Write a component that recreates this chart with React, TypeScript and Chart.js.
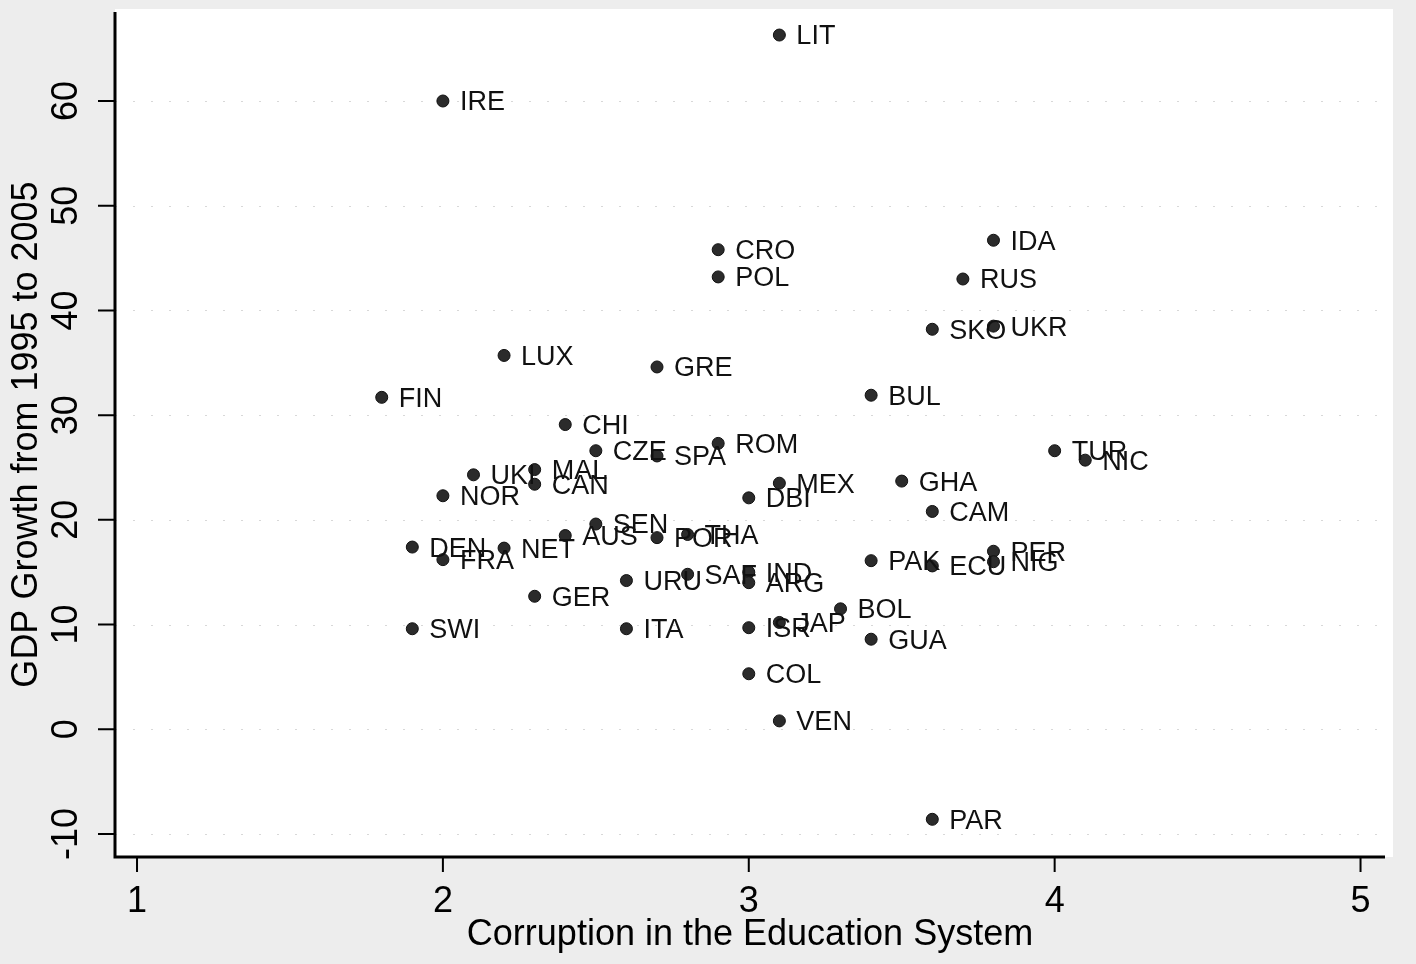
import React, { useEffect, useRef } from "react";
import { Chart, registerables } from "chart.js";

Chart.register(...registerables);

const countries = [
  "LIT", "IRE", "CRO", "POL", "IDA", "RUS", "SKO", "UKR", "LUX", "GRE",
  "FIN", "BUL", "CHI", "CZE", "SPA", "ROM", "TUR", "NIC", "UKI", "MAL",
  "CAN", "NOR", "MEX", "DBI", "GHA", "CAM", "SEN", "AUS", "POR", "THA",
  "DEN", "FRA", "NET", "PAK", "ECU", "PER", "NIG", "URU", "SAF", "IND",
  "ARG", "GER", "BOL", "SWI", "ITA", "ISR", "JAP", "GUA", "COL", "VEN", "PAR",
];
const corruption = [
  3.1, 2.0, 2.9, 2.9, 3.8, 3.7, 3.6, 3.8, 2.2, 2.7,
  1.8, 3.4, 2.4, 2.5, 2.7, 2.9, 4.0, 4.1, 2.1, 2.3,
  2.3, 2.0, 3.1, 3.0, 3.5, 3.6, 2.5, 2.4, 2.7, 2.8,
  1.9, 2.0, 2.2, 3.4, 3.6, 3.8, 3.8, 2.6, 2.8, 3.0,
  3.0, 2.3, 3.3, 1.9, 2.6, 3.0, 3.1, 3.4, 3.0, 3.1, 3.6,
];
const gdpGrowth = [
  66.3, 60.0, 45.8, 43.2, 46.7, 43.0, 38.2, 38.5, 35.7, 34.6,
  31.7, 31.9, 29.1, 26.6, 26.1, 27.3, 26.6, 25.7, 24.3, 24.8,
  23.4, 22.3, 23.5, 22.1, 23.7, 20.8, 19.6, 18.5, 18.3, 18.6,
  17.4, 16.2, 17.3, 16.1, 15.6, 17.0, 16.0, 14.2, 14.8, 15.0,
  14.0, 12.7, 11.5, 9.6, 9.6, 9.7, 10.2, 8.6, 5.3, 0.8, -8.6,
];
const xTicks = [1, 2, 3, 4, 5];
const yTicks = [-10, 0, 10, 20, 30, 40, 50, 60];
const xTitle = "Corruption in the Education System";
const yTitle = "GDP Growth from 1995 to 2005";

const FONT = '"Liberation Sans", Arial, Helvetica, sans-serif';

const decorPlugin = {
  id: "decor",
  beforeDraw(chart: any) {
    const { ctx, chartArea: a, width, height } = chart;
    ctx.save();
    ctx.fillStyle = "#ededed";
    ctx.fillRect(0, 0, width, height);
    ctx.fillStyle = "#ffffff";
    ctx.fillRect(a.left, a.top - 3, a.right - a.left + 8, a.bottom - a.top + 3);
    // faint gridlines
    const y = chart.scales.y;
    ctx.strokeStyle = "#d8d8d8";
    ctx.lineWidth = 1;
    ctx.setLineDash([2, 16]);
    for (const v of yTicks) {
      const py = Math.round(y.getPixelForValue(v)) + 0.5;
      ctx.beginPath();
      ctx.moveTo(a.left, py);
      ctx.lineTo(a.right, py);
      ctx.stroke();
    }
    ctx.restore();
  },
  afterDatasetsDraw(chart: any) {
    const { ctx, chartArea: a } = chart;
    const xs = chart.scales.x;
    const ys = chart.scales.y;
    ctx.save();
    // point labels
    ctx.fillStyle = "#111";
    ctx.font = `27px ${FONT}`;
    ctx.textAlign = "left";
    ctx.textBaseline = "middle";
    const meta = chart.getDatasetMeta(0);
    meta.data.forEach((pt: any, i: number) => {
      ctx.fillText(countries[i], pt.x + 17, pt.y + 2);
    });
    // axes lines
    ctx.strokeStyle = "#000";
    ctx.lineWidth = 3;
    ctx.beginPath();
    ctx.moveTo(a.left, a.top);
    ctx.lineTo(a.left, a.bottom);
    ctx.lineTo(a.right, a.bottom);
    ctx.stroke();
    // ticks
    ctx.lineWidth = 2;
    ctx.beginPath();
    for (const v of xTicks) {
      const px = xs.getPixelForValue(v);
      ctx.moveTo(px, a.bottom);
      ctx.lineTo(px, a.bottom + 15);
    }
    for (const v of yTicks) {
      const py = ys.getPixelForValue(v);
      ctx.moveTo(a.left, py);
      ctx.lineTo(a.left - 17, py);
    }
    ctx.stroke();
    // tick labels
    ctx.fillStyle = "#000";
    ctx.font = `36px ${FONT}`;
    ctx.textAlign = "center";
    ctx.textBaseline = "middle";
    for (const v of xTicks) {
      ctx.fillText(String(v), xs.getPixelForValue(v), a.bottom + 45);
    }
    for (const v of yTicks) {
      const py = ys.getPixelForValue(v);
      ctx.save();
      ctx.translate(a.left - 48, py);
      ctx.rotate(-Math.PI / 2);
      ctx.fillText(String(v), 0, 0);
      ctx.restore();
    }
    // titles
    ctx.fillText(xTitle, (a.left + a.right) / 2, a.bottom + 78);
    ctx.save();
    ctx.translate(a.left - 88, (a.top + a.bottom) / 2);
    ctx.rotate(-Math.PI / 2);
    ctx.fillText(yTitle, 0, 0);
    ctx.restore();
    ctx.restore();
  },
};

export default function App() {
  const ref = useRef<HTMLCanvasElement | null>(null);
  useEffect(() => {
    if (!ref.current) return;
    const chart = new Chart(ref.current, {
      type: "scatter",
      data: {
        datasets: [
          {
            data: corruption.map((x, i) => ({ x, y: gdpGrowth[i] })),
            pointRadius: 6,
            pointBackgroundColor: "#2b2b2b",
            pointBorderColor: "#111",
            pointBorderWidth: 1,
          },
        ],
      },
      options: {
        animation: false,
        responsive: false,
        layout: { padding: { left: 115, right: 31, top: 12, bottom: 107 } },
        plugins: { legend: { display: false }, tooltip: { enabled: false } },
        scales: {
          x: { type: "linear", display: false, min: 0.928, max: 5.08 },
          y: { type: "linear", display: false, min: -12.2, max: 68.5 },
        },
      },
      plugins: [decorPlugin],
    });
    return () => chart.destroy();
  }, []);
  return (
    <div style={{ position: "absolute", left: 0, top: 0, width: 1416, height: 964 }}>
      <canvas ref={ref} width={1416} height={964} />
    </div>
  );
}
